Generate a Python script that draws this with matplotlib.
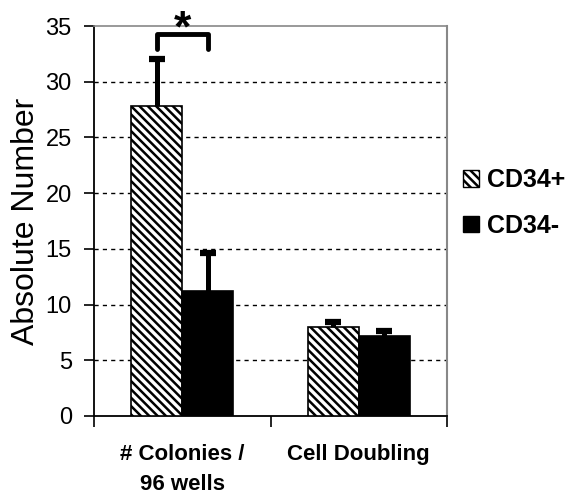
import matplotlib
matplotlib.use("Agg")
import matplotlib.pyplot as plt
import numpy as np
from matplotlib.patches import Patch

categories = ["# Colonies /\n96 wells", "Cell Doubling"]
series = ["CD34+", "CD34-"]
cd34_pos = [27.8, 8.0]
cd34_pos_err = [4.2, 0.4]
cd34_neg = [11.2, 7.2]
cd34_neg_err = [3.4, 0.4]
yticks = [0, 5, 10, 15, 20, 25, 30, 35]

plt.rcParams['font.family'] = ['Liberation Sans', 'DejaVu Sans']
plt.rcParams['hatch.linewidth'] = 1.8

fig = plt.figure(figsize=(5.67, 4.96), dpi=100)
ax = fig.add_axes([94/567, 1-416/496, (447-94)/567, (416-26)/496])

x = np.arange(len(categories))
w = 0.29
ax.bar(x - w/2, cd34_pos, w, color='white', edgecolor='black', hatch='\\\\\\\\', linewidth=1.2, zorder=3)
ax.bar(x + w/2, cd34_neg, w, color='black', edgecolor='black', linewidth=1.2, zorder=3)

def err(xs, ys, es):
    for xi, yi, ei in zip(xs, ys, es):
        ax.plot([xi, xi], [yi, yi + ei], color='black', lw=3.6, solid_capstyle='butt', zorder=4)
        ax.plot([xi], [yi + ei], marker='_', markersize=12, markeredgewidth=4.5, color='black', zorder=4)

err(x - w/2, cd34_pos, cd34_pos_err)
err(x + w/2, cd34_neg, cd34_neg_err)

# significance bracket
bx0, bx1 = x[0] - w/2, x[0] + w/2
ax.plot([bx0, bx0, bx1, bx1], [32.9, 34.3, 34.3, 32.9], color='black', lw=3.5,
        solid_joinstyle='round', solid_capstyle='round', clip_on=False, zorder=5)
ax.text(x[0], 33.6, "*", ha='center', va='baseline', fontsize=32, fontweight='bold', clip_on=False)

ax.set_xlim(-0.5, 1.5)
ax.set_ylim(0, 35)
ax.set_yticks(yticks)
ax.set_yticklabels([str(t) for t in yticks], fontsize=17)
ax.set_xticks([-0.5, 0.5, 1.5])
ax.set_xticklabels([])
ax.set_xticks(x, minor=True)
ax.set_xticklabels(categories, minor=True, fontsize=16, fontweight='bold', linespacing=1.6)
ax.tick_params(axis='x', which='minor', length=0, pad=20)
ax.tick_params(axis='x', which='major', length=8, width=1.2, direction='out')
ax.tick_params(axis='y', length=7, width=1.2, direction='out', pad=9)

for yv in yticks[1:-1]:
    ax.axhline(yv, color='black', lw=1, ls=(0, (3, 3)), zorder=1)

ax.spines['left'].set_linewidth(1.3)
ax.spines['bottom'].set_linewidth(1.3)
ax.spines['top'].set_color('#888888')
ax.spines['right'].set_color('#888888')
ax.spines['top'].set_linewidth(1.2)
ax.spines['right'].set_linewidth(1.5)

ax.set_ylabel("Absolute Number", fontsize=23, labelpad=3)

handles = [Patch(facecolor='white', edgecolor='black', hatch='\\\\\\\\', label=series[0]),
           Patch(facecolor='black', edgecolor='black', label=series[1])]
leg = fig.legend(handles=handles, loc='center left', bbox_to_anchor=(463/567, 1-203/496),
                 frameon=False, prop={'size': 18, 'weight': 'bold'}, borderpad=0, borderaxespad=0,
                 handlelength=0.65, handleheight=0.65, handletextpad=0.32, labelspacing=0.85)

fig.savefig("out.png", dpi=100)
